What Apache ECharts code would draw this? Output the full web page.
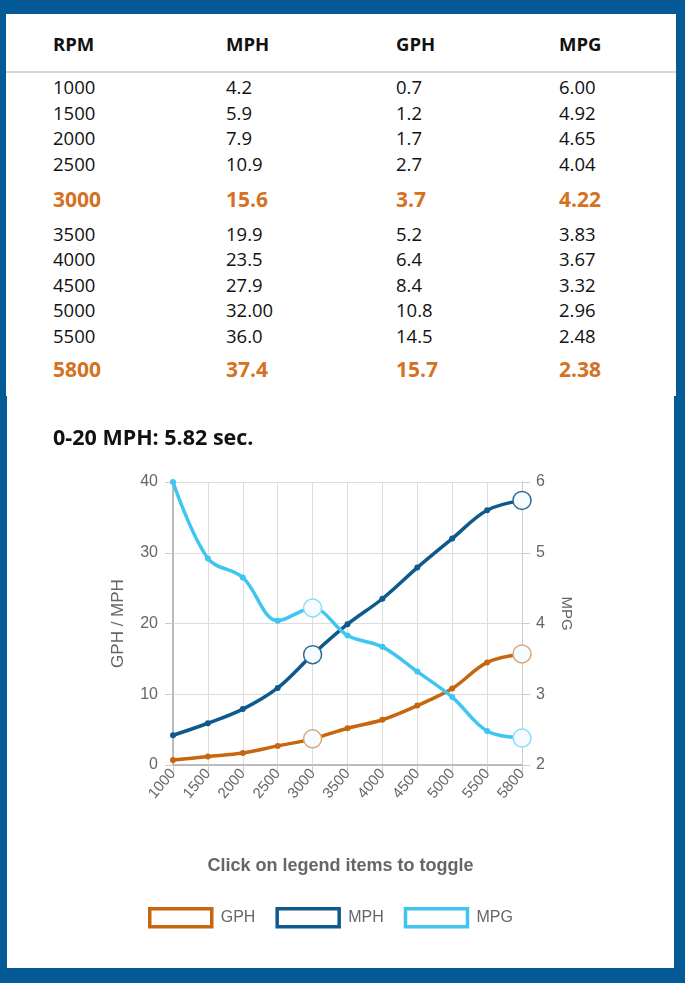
<!DOCTYPE html>
<html>
<head>
<meta charset="utf-8">
<script src="https://cdn.jsdelivr.net/npm/echarts@6/dist/echarts.min.js"></script>
<style>
  body { margin: 0; background: #045a97; width: 685px; height: 983px; position: relative; overflow: hidden; font-family: "Open Sans", sans-serif; }
  #top { position: absolute; left: 6px; top: 14px; width: 670px; height: 382px; background: #fff; }
  #bottom { position: absolute; left: 7px; top: 396px; width: 667px; height: 572px; background: #fff; }
  #chart { position: absolute; left: 0; top: 0; width: 667px; height: 572px; }
  .cell { position: absolute; white-space: nowrap; line-height: 1; transform: translateY(-50%); color: #111; font-size: 18.5px; }
  .head { font-weight: 700; font-size: 18.5px; color: #111; }
  .hi { font-weight: 700; font-size: 21px; color: #d4721f; }
  #rule { position: absolute; left: 0; top: 57px; width: 670px; height: 2px; background: #d6d6d6; }
  #accel { position: absolute; left: 46px; top: 41px; font-weight: 700; font-size: 21.5px; color: #111; line-height: 1; transform: translateY(-50%); }
</style>
</head>
<body>
<div id="top"><div id="rule"></div></div>
<div id="bottom">
  <div id="chart"></div>
  <div id="accel">0-20 MPH: 5.82 sec.</div>
</div>
<script>
const headers = ["RPM", "MPH", "GPH", "MPG"];
const rpm = ["1000", "1500", "2000", "2500", "3000", "3500", "4000", "4500", "5000", "5500", "5800"];
const mph = ["4.2", "5.9", "7.9", "10.9", "15.6", "19.9", "23.5", "27.9", "32.00", "36.0", "37.4"];
const gph = ["0.7", "1.2", "1.7", "2.7", "3.7", "5.2", "6.4", "8.4", "10.8", "14.5", "15.7"];
const mpg = ["6.00", "4.92", "4.65", "4.04", "4.22", "3.83", "3.67", "3.32", "2.96", "2.48", "2.38"];
const highlighted = ["3000", "5800"];

const colors = { GPH: "#c8650f", MPH: "#0e5a8c", MPG: "#3fc6f0" };
const rings = { GPH: "#d9a878", MPH: "#2d6b94", MPG: "#8fdcf5" };

// table
const topBox = document.getElementById("top");
const colX = [47, 220, 390, 553];
const columns = [rpm, mph, gph, mpg];

headers.forEach((text, i) => {
  const div = document.createElement("div");
  div.className = "cell head";
  div.style.left = colX[i] + "px";
  div.style.top = "30px";
  div.textContent = text;
  topBox.appendChild(div);
});

let y = 73;
rpm.forEach((value, r) => {
  const isHi = highlighted.includes(value);
  if (isHi) y += r === rpm.length - 1 ? 7.5 : 9.5;
  columns.forEach((col, i) => {
    const div = document.createElement("div");
    div.className = "cell" + (isHi ? " hi" : "");
    div.style.left = colX[i] + "px";
    div.style.top = y + "px";
    div.textContent = col[r];
    topBox.appendChild(div);
  });
  y += isHi ? 35 : 25.5;
});

// chart
function seriesData(name, values) {
  return values.map((v, i) => {
    if (!highlighted.includes(rpm[i])) return Number(v);
    return {
      value: Number(v),
      symbolSize: 18,
      itemStyle: { color: "#f4fcff", borderColor: rings[name], borderWidth: 1.5 },
    };
  });
}

function lineSeries(name, values, axis) {
  return {
    name,
    type: "line",
    yAxisIndex: axis,
    smooth: 0.35,
    symbol: "circle",
    symbolSize: 6,
    showAllSymbol: true,
    lineStyle: { width: 3.5, color: colors[name] },
    itemStyle: { color: colors[name] },
    data: seriesData(name, values),
  };
}

const chart = echarts.init(document.getElementById("chart"));
const axisFont = { fontFamily: "Liberation Sans, Arial, sans-serif", color: "#666" };

chart.setOption({
  animation: false,
  title: {
    text: "Click on legend items to toggle",
    left: "center",
    top: 456,
    textStyle: { ...axisFont, fontSize: 18, fontWeight: "bold", color: "#666" },
  },
  legend: {
    top: 506,
    left: 136,
    icon: "rect",
    itemWidth: 62,
    itemHeight: 18,
    itemGap: 20,
    textStyle: { ...axisFont, fontSize: 16, color: "#666", padding: [0, 0, 0, 4] },
    data: ["GPH", "MPH", "MPG"].map((name) => ({
      name,
      itemStyle: { color: "#fff", borderColor: colors[name], borderWidth: 3.5 },
    })),
  },
  grid: { left: 166, top: 86, width: 349, height: 283 },
  xAxis: {
    type: "category",
    boundaryGap: false,
    data: rpm,
    axisLine: { lineStyle: { color: "#aaa", width: 1.5 } },
    axisTick: { show: true, length: 7, alignWithLabel: true, lineStyle: { color: "#ccc" } },
    splitLine: { show: true, lineStyle: { color: "#ddd" } },
    axisLabel: { ...axisFont, fontSize: 15, rotate: 50, margin: 6, interval: 0 },
  },
  yAxis: [
    {
      type: "value",
      min: 0,
      max: 40,
      interval: 10,
      name: "GPH / MPH",
      nameLocation: "middle",
      nameRotate: 90,
      nameGap: 46,
      nameTextStyle: { ...axisFont, fontSize: 17 },
      axisLine: { show: true, lineStyle: { color: "#aaa", width: 1.5 } },
      axisTick: { show: true, length: 8, lineStyle: { color: "#ccc" } },
      splitLine: { lineStyle: { color: "#ddd" } },
      axisLabel: { ...axisFont, fontSize: 16, margin: 15 },
    },
    {
      type: "value",
      min: 2,
      max: 6,
      interval: 1,
      name: "MPG",
      nameLocation: "middle",
      nameRotate: -90,
      nameGap: 37,
      nameTextStyle: { ...axisFont, fontSize: 15, padding: [0, 20, 0, 0] },
      axisLine: { show: true, lineStyle: { color: "#ccc" } },
      axisTick: { show: true, length: 8, lineStyle: { color: "#ccc" } },
      splitLine: { show: false },
      axisLabel: { ...axisFont, fontSize: 16, margin: 14 },
    },
  ],
  series: [
    lineSeries("GPH", gph, 0),
    lineSeries("MPH", mph, 0),
    lineSeries("MPG", mpg, 1),
  ],
});
</script>
</body>
</html>
